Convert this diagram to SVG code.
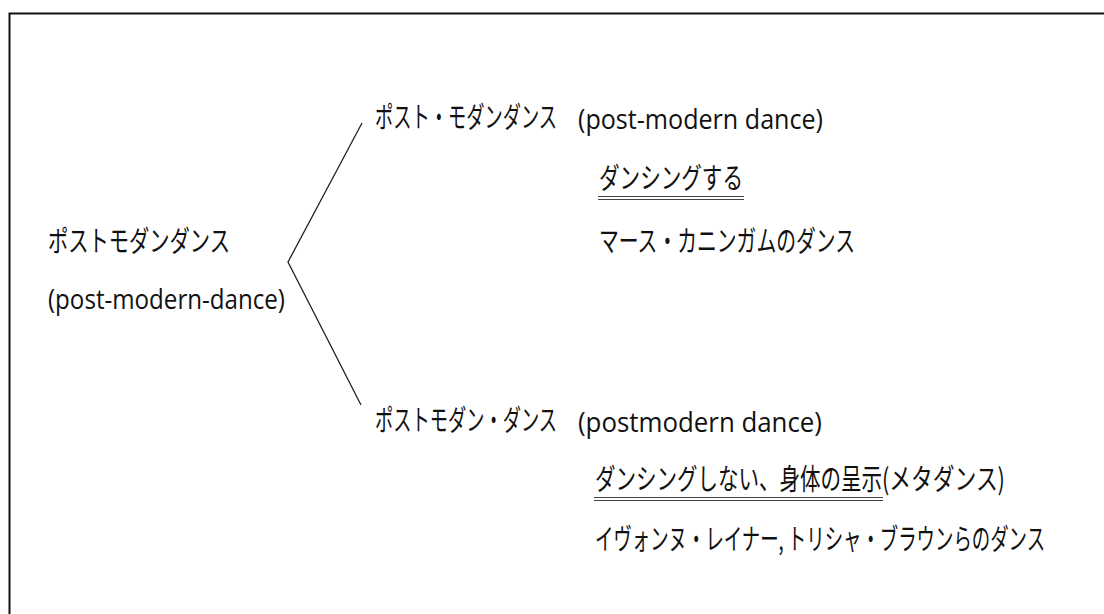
<svg xmlns="http://www.w3.org/2000/svg" width="1104" height="614" viewBox="0 0 1104 614">
<style>
.t{font-family:"Noto Sans CJK JP","Liberation Sans",sans-serif;font-size:29px;fill:#111;}
.l{font-family:"Open Sans","Liberation Sans",sans-serif;font-size:28px;fill:#111;}
.c{stroke:#222;stroke-width:1.3;fill:none;}
.u{stroke:#444;stroke-width:1.2;}
</style>
<rect x="9.5" y="13.5" width="1110" height="620" fill="#fff" stroke="#111" stroke-width="2"/>
<g id="connectors">
<polyline class="c" points="362,123 288,262 361,405"/>
</g>
<g id="root">
<text class="t" transform="translate(48,252) scale(0.7,1)" textLength="260" lengthAdjust="spacingAndGlyphs">ポストモダンダンス</text>
<text class="l" transform="translate(48,309) scale(0.9,1)" textLength="263.3" lengthAdjust="spacingAndGlyphs">(post-modern-dance)</text>
</g>
<g id="branch-top">
<text class="t" transform="translate(375,128) scale(0.7,1)" textLength="260" lengthAdjust="spacingAndGlyphs">ポスト・モダンダンス</text>
<text class="l" transform="translate(578,129) scale(0.9,1)" textLength="272.2" lengthAdjust="spacingAndGlyphs">(post-modern dance)</text>
<text class="t" transform="translate(599,189) scale(0.7,1)" textLength="205.7" lengthAdjust="spacingAndGlyphs">ダンシングする</text>
<line class="u" x1="598" y1="196.5" x2="744" y2="196.5"/>
<line class="u" x1="598" y1="199.5" x2="744" y2="199.5"/>
<text class="t" transform="translate(599,252) scale(0.7,1)" textLength="365.7" lengthAdjust="spacingAndGlyphs">マース・カニンガムのダンス</text>
</g>
<g id="branch-bottom">
<text class="t" transform="translate(375,431) scale(0.7,1)" textLength="260" lengthAdjust="spacingAndGlyphs">ポストモダン・ダンス</text>
<text class="l" transform="translate(578,432) scale(0.9,1)" textLength="271.1" lengthAdjust="spacingAndGlyphs">(postmodern dance)</text>
<text class="t" transform="translate(595,490) scale(0.7,1)"><tspan textLength="410" lengthAdjust="spacingAndGlyphs">ダンシングしない、身体の呈示</tspan><tspan textLength="175.7" lengthAdjust="spacingAndGlyphs">(メタダンス)</tspan></text>
<line class="u" x1="594" y1="497.5" x2="883" y2="497.5"/>
<line class="u" x1="594" y1="500.5" x2="883" y2="500.5"/>
<text class="t" transform="translate(595,550) scale(0.7,1)" textLength="642.9" lengthAdjust="spacingAndGlyphs">イヴォンヌ・レイナー, トリシャ・ブラウンらのダンス</text>
</g>
</svg>
